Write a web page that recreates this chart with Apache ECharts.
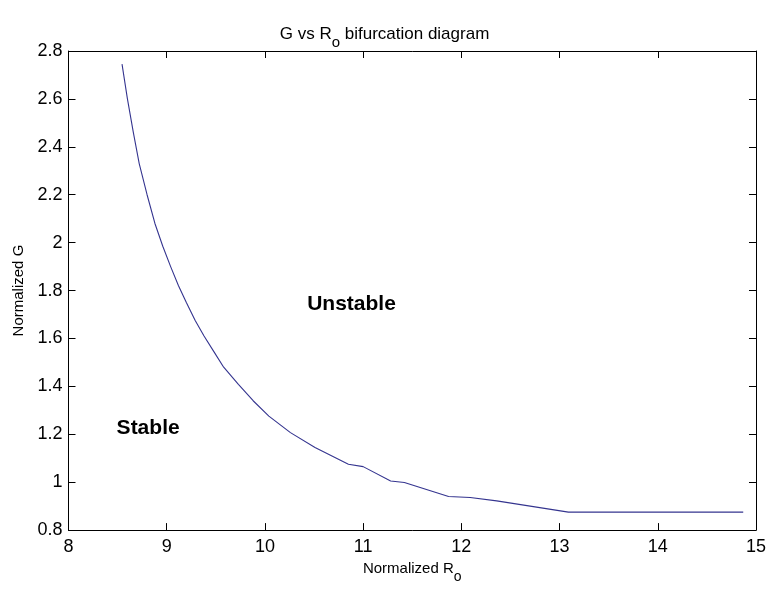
<!DOCTYPE html>
<html>
<head>
<meta charset="utf-8">
<script src="https://cdn.jsdelivr.net/npm/echarts@6/dist/echarts.min.js"></script>
<style>
html,body{margin:0;padding:0;background:#fff;}
#chart{width:769px;height:589px;}
</style>
</head>
<body>
<div id="chart"></div>
<script>
// Normalized R_o (x) and Normalized G (y) of the bifurcation curve
var roValues = [8.545, 8.60, 8.66, 8.72, 8.80, 8.88, 8.96, 9.04, 9.12, 9.20, 9.29, 9.38, 9.48, 9.58, 9.73, 9.88, 10.04, 10.26, 10.51, 10.85, 11.00, 11.28, 11.42, 11.87, 12.09, 12.36, 13.09, 14.87];
var gValues  = [2.745, 2.600, 2.460, 2.330, 2.200, 2.080, 1.985, 1.900, 1.820, 1.750, 1.675, 1.610, 1.545, 1.480, 1.408, 1.340, 1.276, 1.207, 1.145, 1.075, 1.065, 1.005, 0.999, 0.940, 0.936, 0.922, 0.875, 0.875];

var xTickLabels = ['8', '9', '10', '11', '12', '13', '14', '15'];
var yTickLabels = ['0.8', '1', '1.2', '1.4', '1.6', '1.8', '2', '2.2', '2.4', '2.6', '2.8'];

var annotText = ['Stable', 'Unstable'];
var annotX = [8.49, 10.43];
var annotY = [1.225, 1.742];

var FONT = 'Liberation Sans, Arial, sans-serif';

var curve = roValues.map(function (x, i) { return [x, gValues[i]]; });
var annots = annotText.map(function (t, i) { return { value: [annotX[i], annotY[i]], name: t }; });

var xMin = Number(xTickLabels[0]), xMax = Number(xTickLabels[xTickLabels.length - 1]);
var yMin = Number(yTickLabels[0]), yMax = Number(yTickLabels[yTickLabels.length - 1]);

var chart = echarts.init(document.getElementById('chart'), null, { renderer: 'canvas' });

function fmtX(v) { var i = Math.round(v - xMin); return xTickLabels[i] !== undefined ? xTickLabels[i] : ''; }
function fmtY(v) { var i = Math.round((v - yMin) / 0.2); return yTickLabels[i] !== undefined ? yTickLabels[i] : ''; }

var axisLineStyle = { show: true, onZero: false, lineStyle: { color: '#000', width: 1 } };
var tickStyle = { show: true, inside: true, length: 7, lineStyle: { color: '#000', width: 1 } };

chart.setOption({
  animation: false,
  backgroundColor: '#ffffff',
  title: {
    text: '{a|G vs R}{s|o}{a| bifurcation diagram}',
    left: 'center',
    top: 21,
    textStyle: {
      fontWeight: 'normal',
      rich: {
        a: { fontFamily: FONT, fontSize: 17, fontWeight: 'normal', color: '#000', lineHeight: 18, verticalAlign: 'top' },
        s: { fontFamily: FONT, fontSize: 15, fontWeight: 'normal', color: '#000', lineHeight: 18, verticalAlign: 'top', padding: [9, 0, 0, 0] }
      }
    }
  },
  grid: { left: 68.5, right: 8, top: 51, bottom: 58, containLabel: false },
  xAxis: [{
    type: 'value', min: xMin, max: xMax, interval: 1, position: 'bottom',
    axisLine: axisLineStyle, axisTick: tickStyle, splitLine: { show: false },
    axisLabel: { color: '#000', fontFamily: FONT, fontSize: 18, margin: 8, formatter: fmtX },
    name: '{a|Normalized R}{s|o}', nameLocation: 'middle', nameGap: 29,
    nameTextStyle: {
      rich: {
        a: { fontFamily: FONT, fontSize: 15, color: '#000', lineHeight: 18, verticalAlign: 'top' },
        s: { fontFamily: FONT, fontSize: 14, color: '#000', lineHeight: 18, verticalAlign: 'top', padding: [9, 0, 0, 0] }
      }
    }
  }, {
    type: 'value', min: xMin, max: xMax, interval: 1, position: 'top',
    axisLine: axisLineStyle, axisTick: tickStyle, splitLine: { show: false },
    axisLabel: { show: false }
  }],
  yAxis: [{
    type: 'value', min: yMin, max: yMax, interval: 0.2, position: 'left',
    axisLine: axisLineStyle, axisTick: tickStyle, splitLine: { show: false },
    axisLabel: { color: '#000', fontFamily: FONT, fontSize: 18, margin: 6, formatter: fmtY },
    name: 'Normalized G', nameLocation: 'middle', nameGap: 41, nameRotate: 90,
    nameTextStyle: { fontFamily: FONT, fontSize: 15, color: '#000' }
  }, {
    type: 'value', min: yMin, max: yMax, interval: 0.2, position: 'right',
    axisLine: axisLineStyle, axisTick: tickStyle, splitLine: { show: false },
    axisLabel: { show: false }
  }],
  series: [{
    type: 'line',
    data: curve,
    showSymbol: false,
    symbol: 'none',
    lineStyle: { color: '#34348f', width: 1.1 },
    xAxisIndex: 0, yAxisIndex: 0
  }, {
    type: 'scatter',
    data: annots,
    symbolSize: 0,
    silent: true,
    xAxisIndex: 0, yAxisIndex: 0,
    label: {
      show: true, position: 'right', distance: 0,
      formatter: function (p) { return '{b|' + p.name + '}'; },
      rich: {
        b: { fontFamily: FONT, fontSize: 21, fontWeight: 'bold', color: '#000000', opacity: 1 }
      }
    }
  }]
});
</script>
</body>
</html>
